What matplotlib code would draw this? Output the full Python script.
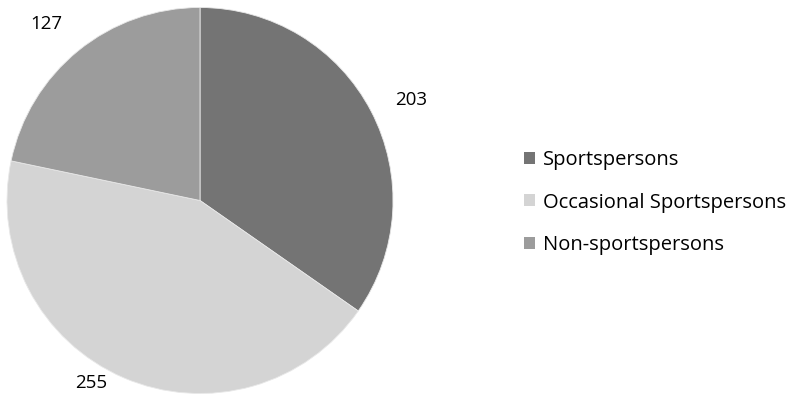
import matplotlib
matplotlib.use('Agg')
import matplotlib.pyplot as plt
import numpy as np

plt.rcParams['font.family'] = ['Open Sans', 'DejaVu Sans']

groups = ['Sportspersons', 'Occasional Sportspersons', 'Non-sportspersons']
counts = [203, 255, 127]
shades = ['#747474', '#d4d4d4', '#9c9c9c']

# label placement per wedge: (radius factor, angle shift in degrees)
label_pos = [(1.21, -2.0), (1.10, -7.5), (1.21, 2.0)]

fig = plt.figure(figsize=(7.95, 4.15), dpi=100)
ax = fig.add_axes([7/795, 21.5/415, 386/795, 386/415])

wedges, _ = ax.pie(counts, colors=shades, startangle=90, counterclock=False,
                   radius=1.0, wedgeprops=dict(edgecolor='#e8e8e8', linewidth=0.6))
ax.set_xlim(-1, 1)
ax.set_ylim(-1, 1)
ax.set_aspect('equal')

for w, n, (r, da) in zip(wedges, counts, label_pos):
    mid = np.deg2rad((w.theta1 + w.theta2) / 2 + da)
    ax.text(r * np.cos(mid), r * np.sin(mid), str(n), ha='center', va='center',
            fontsize=13.5, color='black', clip_on=False)

leg = fig.legend(wedges, groups, loc='center left', bbox_to_anchor=(506/795, 1 - 202.5/415),
                 frameon=False, fontsize=14.5, handlelength=0.55, handleheight=0.55,
                 handletextpad=0.4, labelspacing=1.12)
for h in leg.legend_handles:
    h.set_edgecolor('none')

plt.savefig('out.png', dpi=100)
